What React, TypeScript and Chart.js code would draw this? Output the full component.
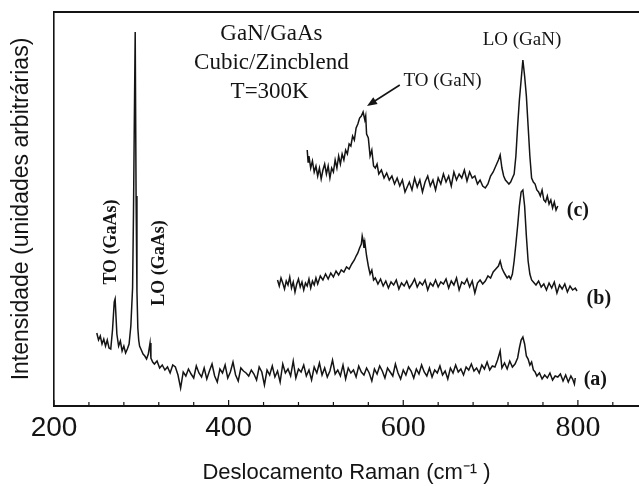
import React, { useEffect, useRef } from "react";
import { Chart, registerables } from "chart.js";
Chart.register(...registerables);

const X_MIN = 200;
const X_MAX = 870;
const Y_MIN = 0;
const Y_MAX = 394;
const X_STEP = 40;
const TICK_LABELS = [200, 400, 600, 800];

// Trace (a): Raman spectrum, [wavenumber, intensity]
const traceA: [number, number][] = [
  [249, 73], [251, 66], [253, 70], [255, 62], [257, 67], [259, 60], [261, 66], [263, 58], [265, 57], [267, 76],
  [269, 104], [270, 107], [272, 72], [274, 60], [276, 65], [278, 55], [280, 60], [282, 53], [284, 57], [286, 62],
  [288, 80], [290, 118], [291, 190], [292, 285], [293, 374], [294, 210], [295, 115], [296, 78], [297, 66], [298, 60],
  [300, 56], [302, 52], [304, 50], [306, 47], [308, 52], [310, 63], [311, 48], [313, 44], [315, 42], [318, 45],
  [321, 38], [324, 41], [327, 36], [330, 39], [333, 33], [336, 41], [339, 39], [342, 31], [345, 18], [348, 34],
  [351, 30], [354, 37], [357, 32], [360, 28], [363, 40], [366, 33], [369, 29], [372, 38], [375, 27], [378, 35],
  [381, 42], [384, 30], [387, 24], [390, 37], [393, 33], [396, 41], [399, 28], [402, 34], [405, 44], [408, 31],
  [411, 25], [414, 38], [417, 35], [420, 33], [423, 30], [426, 36], [429, 32], [432, 26], [435, 39], [438, 34],
  [441, 21], [444, 36], [447, 31], [450, 40], [453, 29], [456, 35], [459, 24], [462, 42], [465, 33], [468, 37],
  [471, 30], [474, 45], [477, 28], [480, 37], [483, 34], [486, 41], [489, 30], [492, 36], [495, 26], [498, 39],
  [501, 33], [504, 43], [507, 31], [510, 38], [513, 29], [516, 35], [519, 46], [522, 32], [525, 36], [528, 30],
  [531, 41], [534, 27], [537, 38], [540, 33], [543, 36], [546, 29], [549, 40], [552, 34], [555, 31], [558, 38],
  [561, 33], [564, 25], [567, 37], [570, 32], [573, 40], [576, 35], [579, 28], [582, 38], [585, 34], [588, 30],
  [591, 42], [594, 33], [597, 27], [600, 36], [603, 31], [606, 39], [609, 35], [612, 28], [615, 37], [618, 32],
  [621, 41], [624, 34], [627, 30], [630, 38], [633, 29], [636, 36], [639, 33], [642, 40], [645, 31], [648, 35],
  [651, 27], [654, 38], [657, 33], [660, 41], [663, 34], [666, 37], [669, 31], [672, 39], [675, 36], [678, 42],
  [681, 35], [684, 38], [687, 33], [690, 41], [693, 37], [696, 44], [699, 36], [702, 40], [705, 39], [708, 46],
  [711, 55], [713, 38], [716, 43], [719, 37], [722, 45], [725, 39], [728, 42], [731, 48], [733, 58], [735, 66],
  [737, 69], [739, 62], [741, 50], [743, 47], [745, 41], [747, 44], [749, 36], [751, 34], [753, 30], [756, 33],
  [759, 27], [762, 31], [765, 28], [768, 33], [771, 26], [774, 30], [777, 29], [780, 32], [783, 25], [786, 31],
  [789, 24], [792, 30], [794, 27], [796, 22], [797, 28],
];

// Trace (b)
const traceB: [number, number][] = [
  [456, 126], [458, 120], [460, 128], [462, 123], [464, 117], [466, 125], [468, 121], [470, 129], [472, 118], [474, 124],
  [476, 114], [478, 122], [480, 127], [482, 119], [484, 124], [486, 116], [488, 123], [490, 120], [492, 127], [494, 118],
  [496, 125], [498, 121], [500, 128], [502, 122], [505, 130], [508, 126], [511, 132], [514, 127], [517, 133], [520, 129],
  [523, 135], [526, 131], [529, 136], [532, 134], [535, 139], [538, 137], [541, 142], [544, 146], [546, 150], [548, 153],
  [550, 158], [552, 162], [553, 170], [554, 166], [555, 158], [556, 164], [558, 150], [560, 140], [562, 132], [564, 136],
  [566, 126], [568, 128], [571, 122], [574, 127], [577, 120], [580, 125], [583, 118], [586, 124], [589, 121], [592, 126],
  [595, 117], [598, 123], [601, 120], [604, 125], [607, 118], [610, 122], [613, 127], [616, 119], [619, 124], [622, 121],
  [625, 126], [628, 116], [631, 123], [634, 120], [637, 126], [640, 119], [643, 124], [646, 122], [649, 127], [652, 118],
  [655, 125], [658, 121], [661, 128], [664, 116], [667, 124], [670, 122], [673, 127], [676, 119], [679, 125], [682, 113],
  [685, 123], [688, 126], [691, 122], [694, 125], [697, 130], [700, 128], [703, 134], [706, 137], [709, 140], [711, 145],
  [713, 138], [715, 134], [717, 131], [719, 128], [721, 130], [723, 127], [725, 132], [727, 145], [729, 162], [731, 180],
  [733, 200], [735, 214], [737, 216], [739, 200], [741, 170], [743, 145], [745, 132], [747, 126], [749, 124], [752, 121],
  [755, 125], [758, 119], [761, 122], [764, 116], [767, 123], [770, 118], [773, 124], [776, 113], [779, 121], [782, 117],
  [785, 122], [788, 114], [791, 120], [794, 116], [797, 118], [799, 115],
];

// Trace (c)
const traceC: [number, number][] = [
  [490, 256], [491, 244], [492, 250], [494, 238], [496, 245], [498, 234], [500, 240], [502, 230], [504, 238], [506, 227],
  [508, 236], [510, 242], [512, 232], [514, 240], [516, 228], [518, 238], [520, 234], [522, 246], [524, 238], [526, 250],
  [528, 242], [530, 252], [532, 246], [534, 256], [536, 252], [538, 262], [540, 260], [542, 270], [544, 266], [546, 278],
  [548, 282], [550, 288], [552, 290], [554, 294], [556, 286], [557, 290], [558, 272], [560, 268], [562, 250], [564, 256],
  [566, 240], [568, 238], [570, 242], [572, 232], [575, 236], [578, 228], [581, 233], [584, 226], [587, 230], [590, 222],
  [593, 228], [596, 220], [599, 226], [602, 214], [604, 218], [607, 224], [610, 216], [613, 228], [616, 219], [619, 226],
  [622, 214], [625, 224], [628, 230], [631, 220], [634, 226], [637, 216], [640, 228], [643, 222], [646, 232], [649, 224],
  [652, 230], [655, 220], [658, 234], [661, 226], [664, 232], [667, 228], [670, 236], [673, 225], [676, 234], [679, 228],
  [682, 230], [685, 222], [688, 226], [691, 220], [694, 218], [697, 222], [700, 230], [703, 234], [706, 240], [709, 246],
  [711, 251], [713, 238], [715, 230], [717, 226], [719, 224], [721, 222], [723, 224], [725, 228], [727, 232], [729, 250],
  [731, 280], [733, 306], [735, 326], [737, 346], [739, 330], [741, 310], [743, 280], [745, 250], [747, 228], [749, 224],
  [751, 222], [753, 216], [755, 214], [757, 210], [759, 216], [761, 206], [763, 204], [765, 210], [767, 202], [769, 206],
  [771, 198], [773, 204], [775, 196], [777, 200],
];

const SERIES = [traceA, traceB, traceC];

type Note = { text: string; x: number; y: number; font: string; rot?: boolean };
const NOTES: Note[] = [
  { text: "GaN/GaAs", x: 449, y: 372, font: "23px 'Liberation Serif'" },
  { text: "Cubic/Zincblend", x: 449, y: 343, font: "23px 'Liberation Serif'" },
  { text: "T=300K", x: 447, y: 314, font: "23px 'Liberation Serif'" },
  { text: "LO (GaN)", x: 736, y: 366, font: "19px 'Liberation Serif'" },
  { text: "TO (GaN)", x: 645, y: 325, font: "19px 'Liberation Serif'" },
  { text: "TO (GaAs)", x: 266, y: 164, font: "bold 18px 'Liberation Serif'", rot: true },
  { text: "LO (GaAs)", x: 321, y: 143, font: "bold 18px 'Liberation Serif'", rot: true },
  { text: "(c)", x: 800, y: 195, font: "bold 20px 'Liberation Serif'" },
  { text: "(b)", x: 824, y: 107, font: "bold 20px 'Liberation Serif'" },
  { text: "(a)", x: 820, y: 26, font: "bold 20px 'Liberation Serif'" },
];
const ARROW = { from: [596, 321], to: [558.5, 300] };

const INK = "#141414";

function tickFont(v: number): string {
  return v >= 600 ? "30px 'Liberation Serif'" : "28px 'Liberation Sans'";
}

const decorPlugin = {
  id: "decor",
  afterDatasetsDraw(chart: any) {
    const { ctx, chartArea, scales } = chart;
    const xs = scales.x;
    const ys = scales.y;
    ctx.save();
    ctx.strokeStyle = INK;
    ctx.fillStyle = INK;
    // top frame line
    ctx.lineWidth = 2;
    ctx.beginPath();
    ctx.moveTo(chartArea.left, chartArea.top);
    ctx.lineTo(chartArea.right, chartArea.top);
    ctx.stroke();
    // inward tick marks and labels
    ctx.lineWidth = 1.2;
    ctx.textAlign = "center";
    ctx.textBaseline = "middle";
    for (const t of xs.ticks) {
      const px = xs.getPixelForValue(t.value);
      const major = TICK_LABELS.includes(t.value);
      const len = major ? 6 : 4;
      ctx.beginPath();
      ctx.moveTo(px, chartArea.bottom);
      ctx.lineTo(px, chartArea.bottom - len);
      ctx.stroke();
      if (major) {
        ctx.font = tickFont(t.value);
        ctx.fillText(String(t.value), px, chartArea.bottom + 22);
      }
    }
    // annotations
    for (const n of NOTES) {
      const px = xs.getPixelForValue(n.x);
      const py = ys.getPixelForValue(n.y);
      ctx.font = n.font;
      if (n.rot) {
        ctx.save();
        ctx.translate(px, py);
        ctx.rotate(-Math.PI / 2);
        ctx.fillText(n.text, 0, 0);
        ctx.restore();
      } else {
        ctx.fillText(n.text, px, py);
      }
    }
    // arrow
    const x1 = xs.getPixelForValue(ARROW.from[0]);
    const y1 = ys.getPixelForValue(ARROW.from[1]);
    const x2 = xs.getPixelForValue(ARROW.to[0]);
    const y2 = ys.getPixelForValue(ARROW.to[1]);
    const ang = Math.atan2(y2 - y1, x2 - x1);
    ctx.lineWidth = 1.6;
    ctx.beginPath();
    ctx.moveTo(x1, y1);
    ctx.lineTo(x2 - 6 * Math.cos(ang), y2 - 6 * Math.sin(ang));
    ctx.stroke();
    ctx.beginPath();
    ctx.moveTo(x2, y2);
    ctx.lineTo(x2 - 10 * Math.cos(ang) + 4 * Math.sin(ang), y2 - 10 * Math.sin(ang) - 4 * Math.cos(ang));
    ctx.lineTo(x2 - 10 * Math.cos(ang) - 4 * Math.sin(ang), y2 - 10 * Math.sin(ang) + 4 * Math.cos(ang));
    ctx.closePath();
    ctx.fill();
    ctx.restore();
  },
};

export default function App() {
  const ref = useRef<HTMLCanvasElement | null>(null);
  useEffect(() => {
    if (!ref.current) return;
    const chart = new Chart(ref.current, {
      type: "line",
      data: {
        datasets: SERIES.map((s) => ({
          data: s.map(([x, y]) => ({ x, y })),
          borderColor: INK,
          borderWidth: 1.5,
          pointRadius: 0,
          tension: 0,
          fill: false,
        })),
      },
      options: {
        responsive: false,
        animation: false,
        events: [],
        layout: { padding: { top: 12, right: 0, left: 0, bottom: 0 } },
        plugins: { legend: { display: false }, tooltip: { enabled: false } },
        scales: {
          x: {
            type: "linear",
            min: X_MIN,
            max: X_MAX,
            afterFit: (s: any) => {
              s.height = 80;
            },
            grid: { display: false, drawTicks: false },
            border: { display: true, color: INK, width: 2 },
            ticks: {
              display: false,
              stepSize: X_STEP,
              includeBounds: false,
              autoSkip: false,
            },
            title: {
              display: true,
              text: "Deslocamento Raman (cm⁻¹ )",
              color: INK,
              font: { family: "'Liberation Sans'", size: 22 },
              padding: { top: 0, bottom: 0 },
            },
          },
          y: {
            type: "linear",
            min: Y_MIN,
            max: Y_MAX,
            afterFit: (s: any) => {
              s.width = 54;
            },
            grid: { display: false, drawTicks: false },
            border: { display: true, color: INK, width: 1.6 },
            ticks: { display: false },
            title: {
              display: true,
              text: "Intensidade (unidades arbitrárias)",
              color: INK,
              font: { family: "'Liberation Sans'", size: 23 },
              padding: { top: 8, bottom: 0 },
            },
          },
        },
      },
      plugins: [decorPlugin],
    });
    return () => chart.destroy();
  }, []);
  return (
    <div style={{ position: "fixed", left: 0, top: 0, width: 639, height: 486, background: "#fff" }}>
      <canvas ref={ref} width={639} height={486} style={{ display: "block" }} />
    </div>
  );
}
